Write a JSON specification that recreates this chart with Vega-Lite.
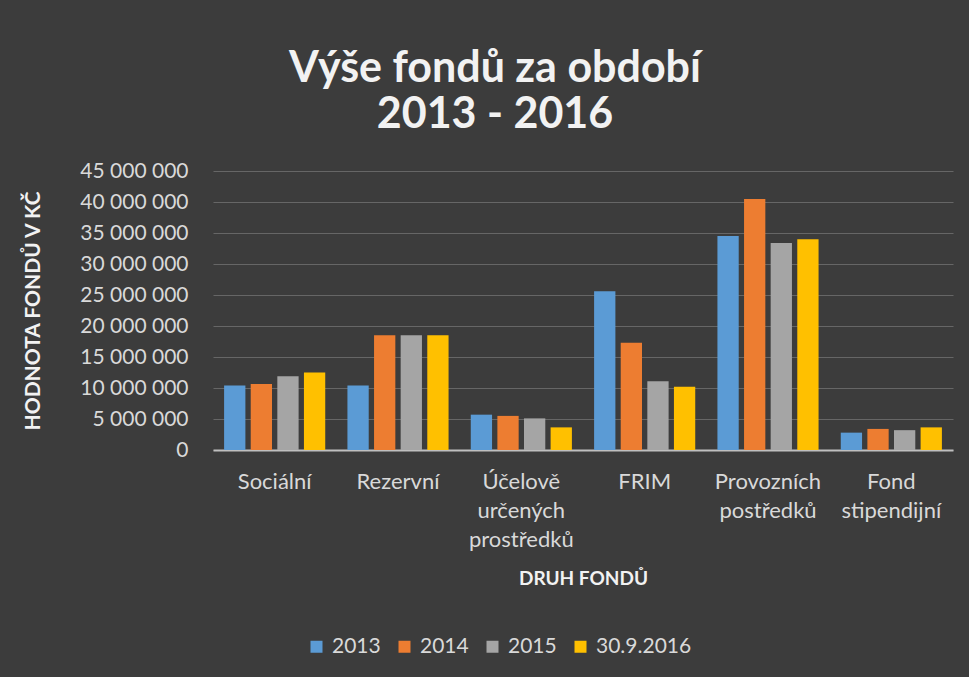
{
  "$schema": "https://vega.github.io/schema/vega-lite/v6.json",
  "autosize": {"type": "none"},
  "width": 740,
  "height": 279,
  "padding": {"left": 213, "top": 171, "right": 16, "bottom": 227},
  "background": "#3c3c3c",
  "config": {
    "locale": {"number": {"decimal": ",", "thousands": " ", "grouping": [3], "currency": ["", " Kč"]}},
    "font": "Lato",
    "view": {"stroke": null}
  },
  "title": {
    "text": ["Výše fondů za období", "2013 - 2016"],
    "fontSize": 43,
    "font": "Lato",
    "fontWeight": "bold",
    "color": "#f2f2f2",
    "lineHeight": 46,
    "anchor": "middle",
    "dx": -88,
    "offset": 23
  },
  "data": {
    "values": [
      {"fond": "Sociální", "rok": "2013", "hodnota": 10400000},
      {"fond": "Sociální", "rok": "2014", "hodnota": 10650000},
      {"fond": "Sociální", "rok": "2015", "hodnota": 11900000},
      {"fond": "Sociální", "rok": "30.9.2016", "hodnota": 12500000},
      {"fond": "Rezervní", "rok": "2013", "hodnota": 10400000},
      {"fond": "Rezervní", "rok": "2014", "hodnota": 18500000},
      {"fond": "Rezervní", "rok": "2015", "hodnota": 18500000},
      {"fond": "Rezervní", "rok": "30.9.2016", "hodnota": 18500000},
      {"fond": "Účelově určených prostředků", "rok": "2013", "hodnota": 5700000},
      {"fond": "Účelově určených prostředků", "rok": "2014", "hodnota": 5500000},
      {"fond": "Účelově určených prostředků", "rok": "2015", "hodnota": 5100000},
      {"fond": "Účelově určených prostředků", "rok": "30.9.2016", "hodnota": 3650000},
      {"fond": "FRIM", "rok": "2013", "hodnota": 25600000},
      {"fond": "FRIM", "rok": "2014", "hodnota": 17300000},
      {"fond": "FRIM", "rok": "2015", "hodnota": 11100000},
      {"fond": "FRIM", "rok": "30.9.2016", "hodnota": 10200000},
      {"fond": "Provozních postředků", "rok": "2013", "hodnota": 34500000},
      {"fond": "Provozních postředků", "rok": "2014", "hodnota": 40500000},
      {"fond": "Provozních postředků", "rok": "2015", "hodnota": 33400000},
      {"fond": "Provozních postředků", "rok": "30.9.2016", "hodnota": 34000000},
      {"fond": "Fond stipendijní", "rok": "2013", "hodnota": 2800000},
      {"fond": "Fond stipendijní", "rok": "2014", "hodnota": 3400000},
      {"fond": "Fond stipendijní", "rok": "2015", "hodnota": 3200000},
      {"fond": "Fond stipendijní", "rok": "30.9.2016", "hodnota": 3650000}
    ]
  },
  "mark": {"type": "bar"},
  "encoding": {
    "x": {
      "field": "fond",
      "type": "nominal",
      "sort": null,
      "scale": {"paddingInner": 0.18, "paddingOuter": 0.09},
      "axis": {
        "title": "DRUH FONDŮ",
        "titleFontSize": 19,
        "titleFontWeight": "bold",
        "titleColor": "#f2f2f2",
        "titleY": 128,
        "titleBaseline": "middle",
        "labelAngle": 0,
        "labelFontSize": 22,
        "labelColor": "#d9d9d9",
        "labelLineHeight": 29,
        "labelPadding": 21,
        "labelBaseline": "top",
        "tickSize": 0,
        "domainColor": "#bfbfbf",
        "domainWidth": 2,
        "labelExpr": "datum.value == 'Účelově určených prostředků' ? ['Účelově', 'určených', 'prostředků'] : datum.value == 'Provozních postředků' ? ['Provozních', 'postředků'] : datum.value == 'Fond stipendijní' ? ['Fond', 'stipendijní'] : datum.label"
      }
    },
    "xOffset": {
      "field": "rok",
      "type": "nominal",
      "scale": {"paddingInner": 0.2, "paddingOuter": 0}
    },
    "y": {
      "field": "hodnota",
      "type": "quantitative",
      "scale": {"domain": [0, 45000000]},
      "axis": {
        "title": "HODNOTA FONDŮ V KČ",
        "titleFontSize": 21,
        "titleFontWeight": "bold",
        "titleColor": "#f2f2f2",
        "titleX": -180,
        "titleY": 139.5,
        "titleAngle": -90,
        "titleAlign": "center",
        "titleBaseline": "middle",
        "values": [0, 5000000, 10000000, 15000000, 20000000, 25000000, 30000000, 35000000, 40000000, 45000000],
        "format": ",d",
        "labelFontSize": 21,
        "labelColor": "#d9d9d9",
        "labelPadding": 25,
        "tickSize": 0,
        "domain": false,
        "gridColor": "#666666",
        "gridWidth": 1
      }
    },
    "color": {
      "field": "rok",
      "type": "nominal",
      "scale": {"domain": ["2013", "2014", "2015", "30.9.2016"], "range": ["#5b9bd5", "#ed7d31", "#a5a5a5", "#ffc000"]},
      "legend": {
        "orient": "none",
        "direction": "horizontal",
        "title": null,
        "legendX": 93,
        "legendY": 465,
        "symbolType": "square",
        "symbolSize": 144,
        "symbolStrokeWidth": 0,
        "labelFontSize": 21,
        "labelColor": "#d9d9d9",
        "labelOffset": 5,
        "columnPadding": 13
      }
    }
  }
}
